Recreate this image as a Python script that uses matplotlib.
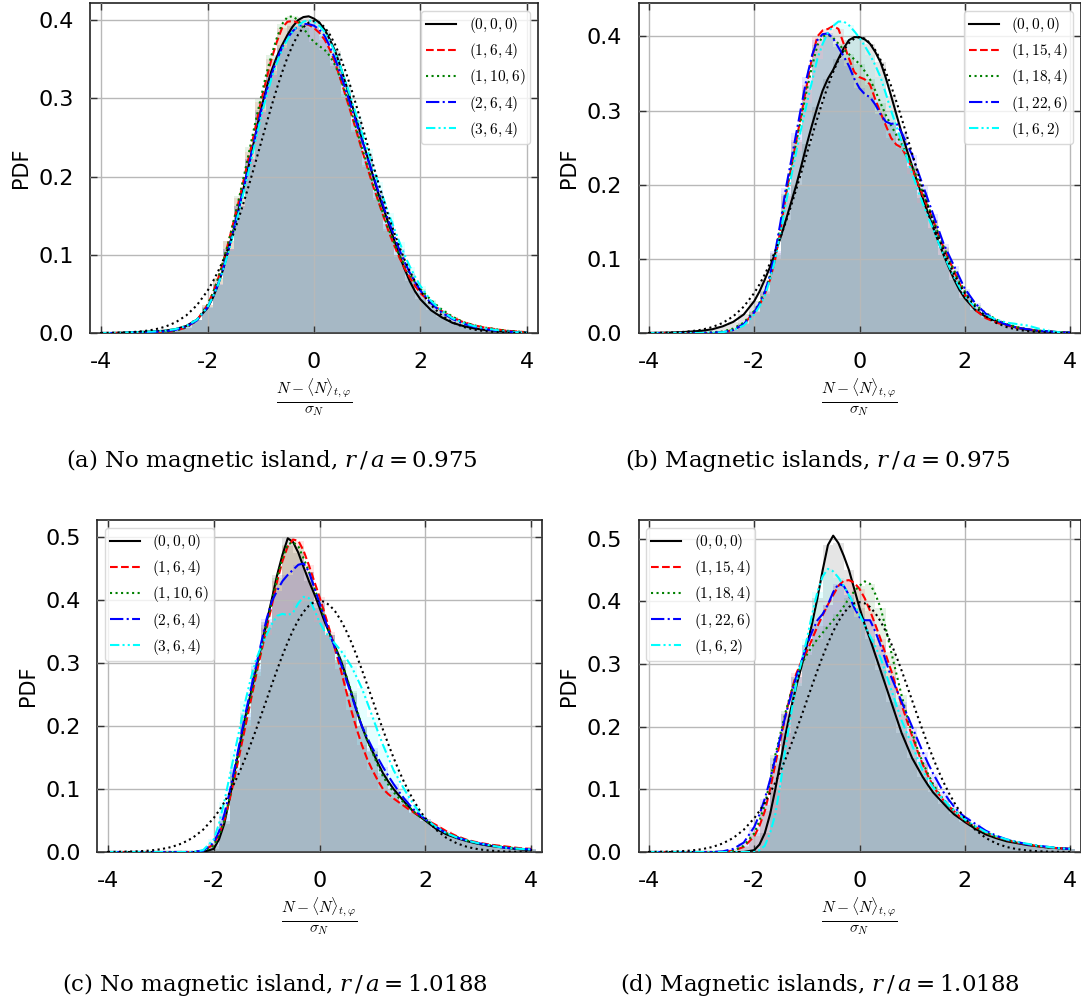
import numpy as np
import matplotlib
matplotlib.use('Agg')
import matplotlib.pyplot as plt
from matplotlib.ticker import MultipleLocator

plt.rcParams['mathtext.fontset'] = 'cm'
plt.rcParams['axes.unicode_minus'] = False
plt.rcParams['font.family'] = 'DejaVu Sans'

# x positions of the sampled curves (normalised fluctuation)
X = [-4.0, -3.8, -3.6, -3.4, -3.2, -3.0, -2.8, -2.6, -2.4, -2.2,
     -2.0, -1.9, -1.8, -1.7, -1.6, -1.5, -1.4, -1.3, -1.2, -1.1,
     -1.0, -0.9, -0.8, -0.7, -0.6, -0.5, -0.4, -0.3, -0.2, -0.1,
     0.0, 0.1, 0.2, 0.3, 0.4, 0.5, 0.6, 0.7, 0.8, 0.9,
     1.0, 1.1, 1.2, 1.3, 1.4, 1.5, 1.6, 1.7, 1.8, 1.9,
     2.0, 2.2, 2.4, 2.6, 2.8, 3.0, 3.2, 3.4, 3.6, 3.8,
     4.0]

# reference Gaussian (black dotted)
GAUSS = [0.0001, 0.0003, 0.0006, 0.0012, 0.0024, 0.0044, 0.0079, 0.0136, 0.0224, 0.0355,
         0.0540, 0.0656, 0.0790, 0.0940, 0.1109, 0.1295, 0.1497, 0.1714, 0.1942, 0.2179,
         0.2420, 0.2661, 0.2897, 0.3123, 0.3332, 0.3521, 0.3683, 0.3814, 0.3910, 0.3970,
         0.3989, 0.3970, 0.3910, 0.3814, 0.3683, 0.3521, 0.3332, 0.3123, 0.2897, 0.2661,
         0.2420, 0.2179, 0.1942, 0.1714, 0.1497, 0.1295, 0.1109, 0.0940, 0.0790, 0.0656,
         0.0540, 0.0355, 0.0224, 0.0136, 0.0079, 0.0044, 0.0024, 0.0012, 0.0006, 0.0003,
         0.0001]

# (a) no magnetic island, r/a = 0.975
A_000 = [0.0, 0.0, 0.0005, 0.001, 0.0015, 0.002, 0.003, 0.005, 0.009, 0.017,
         0.032, 0.045, 0.062, 0.083, 0.108, 0.135, 0.163, 0.192, 0.222, 0.254,
         0.285, 0.312, 0.335, 0.353, 0.368, 0.381, 0.392, 0.4, 0.404, 0.405,
         0.402, 0.397, 0.388, 0.375, 0.36, 0.34, 0.318, 0.295, 0.272, 0.249,
         0.226, 0.203, 0.18, 0.16, 0.14, 0.12, 0.1, 0.082, 0.066, 0.053,
         0.043, 0.029, 0.02, 0.013, 0.009, 0.006, 0.004, 0.003, 0.002, 0.001,
         0.0005]
A_164 = [0.0, 0.0, 0.0, 0.0, 0.0, 0.0005, 0.001, 0.003, 0.007, 0.016,
         0.036, 0.051, 0.07, 0.092, 0.118, 0.145, 0.172, 0.202, 0.232, 0.263,
         0.295, 0.323, 0.35, 0.372, 0.39, 0.398, 0.399, 0.397, 0.396, 0.394,
         0.39, 0.384, 0.375, 0.362, 0.345, 0.324, 0.302, 0.28, 0.257, 0.234,
         0.212, 0.19, 0.17, 0.15, 0.13, 0.113, 0.097, 0.083, 0.071, 0.06,
         0.051, 0.038, 0.028, 0.02, 0.014, 0.01, 0.007, 0.005, 0.003, 0.002,
         0.001]
A_1106 = [0.0, 0.0, 0.0, 0.0, 0.0, 0.0005, 0.001, 0.003, 0.007, 0.016,
          0.036, 0.051, 0.07, 0.093, 0.118, 0.146, 0.175, 0.206, 0.238, 0.27,
          0.3, 0.33, 0.355, 0.377, 0.395, 0.404, 0.405, 0.4, 0.39, 0.38,
          0.372, 0.367, 0.362, 0.354, 0.342, 0.325, 0.305, 0.283, 0.26, 0.237,
          0.215, 0.193, 0.172, 0.152, 0.133, 0.116, 0.1, 0.087, 0.075, 0.065,
          0.056, 0.042, 0.03, 0.021, 0.014, 0.01, 0.007, 0.005, 0.003, 0.002,
          0.001]
A_264 = [0.0, 0.0, 0.0, 0.0005, 0.001, 0.0015, 0.002, 0.004, 0.008, 0.016,
         0.033, 0.046, 0.063, 0.084, 0.108, 0.135, 0.163, 0.192, 0.222, 0.252,
         0.282, 0.308, 0.33, 0.349, 0.365, 0.377, 0.386, 0.392, 0.395, 0.395,
         0.393, 0.388, 0.38, 0.366, 0.35, 0.331, 0.31, 0.289, 0.268, 0.247,
         0.225, 0.204, 0.183, 0.163, 0.143, 0.125, 0.107, 0.091, 0.077, 0.065,
         0.054, 0.038, 0.026, 0.018, 0.012, 0.008, 0.005, 0.003, 0.002, 0.001,
         0.0005]
A_364 = [0.0, 0.0, 0.0005, 0.001, 0.0015, 0.002, 0.003, 0.005, 0.009, 0.017,
         0.033, 0.046, 0.062, 0.082, 0.105, 0.131, 0.158, 0.186, 0.215, 0.245,
         0.275, 0.301, 0.325, 0.345, 0.362, 0.375, 0.386, 0.393, 0.398, 0.4,
         0.398, 0.393, 0.385, 0.373, 0.358, 0.34, 0.32, 0.299, 0.278, 0.256,
         0.235, 0.214, 0.193, 0.173, 0.153, 0.135, 0.117, 0.1, 0.085, 0.072,
         0.06, 0.041, 0.028, 0.019, 0.013, 0.009, 0.006, 0.004, 0.002, 0.001,
         0.0005]

# (b) magnetic islands, r/a = 0.975
B_000 = [0.0, 0.0003, 0.0006, 0.001, 0.002, 0.003, 0.005, 0.009, 0.015, 0.025,
         0.043, 0.056, 0.072, 0.089, 0.108, 0.129, 0.152, 0.176, 0.2, 0.227,
         0.255, 0.281, 0.305, 0.327, 0.343, 0.355, 0.37, 0.384, 0.395, 0.399,
         0.399, 0.396, 0.39, 0.379, 0.365, 0.344, 0.32, 0.295, 0.27, 0.247,
         0.225, 0.203, 0.182, 0.162, 0.142, 0.123, 0.105, 0.088, 0.072, 0.058,
         0.047, 0.031, 0.022, 0.016, 0.011, 0.007, 0.004, 0.003, 0.002, 0.001,
         0.0005]
B_1154 = [0.0, 0.0, 0.0, 0.0, 0.0, 0.0, 0.0, 0.001, 0.004, 0.012,
          0.028, 0.038, 0.052, 0.072, 0.1, 0.14, 0.185, 0.222, 0.26, 0.297,
          0.335, 0.372, 0.4, 0.408, 0.41, 0.414, 0.41, 0.39, 0.37, 0.352,
          0.345, 0.342, 0.335, 0.315, 0.297, 0.28, 0.263, 0.254, 0.25, 0.237,
          0.222, 0.204, 0.186, 0.169, 0.152, 0.133, 0.115, 0.099, 0.083, 0.067,
          0.052, 0.031, 0.02, 0.014, 0.01, 0.007, 0.005, 0.003, 0.002, 0.001,
          0.0005]
B_1184 = [0.0, 0.0, 0.0, 0.0, 0.0, 0.0005, 0.001, 0.002, 0.006, 0.014,
          0.03, 0.041, 0.056, 0.077, 0.105, 0.145, 0.188, 0.223, 0.258, 0.293,
          0.328, 0.36, 0.388, 0.4, 0.402, 0.398, 0.39, 0.382, 0.376, 0.369,
          0.363, 0.353, 0.342, 0.327, 0.31, 0.294, 0.28, 0.267, 0.255, 0.24,
          0.225, 0.208, 0.19, 0.172, 0.153, 0.134, 0.116, 0.1, 0.084, 0.07,
          0.056, 0.038, 0.027, 0.018, 0.012, 0.008, 0.005, 0.003, 0.002, 0.001,
          0.0005]
B_1226 = [0.0, 0.0, 0.0, 0.0, 0.0, 0.0, 0.0005, 0.001, 0.004, 0.012,
          0.028, 0.04, 0.055, 0.078, 0.11, 0.15, 0.195, 0.232, 0.27, 0.308,
          0.345, 0.375, 0.395, 0.403, 0.404, 0.397, 0.385, 0.373, 0.36, 0.343,
          0.33, 0.322, 0.318, 0.308, 0.295, 0.285, 0.282, 0.283, 0.27, 0.255,
          0.24, 0.22, 0.2, 0.18, 0.16, 0.14, 0.12, 0.105, 0.09, 0.075,
          0.06, 0.04, 0.026, 0.017, 0.011, 0.007, 0.005, 0.003, 0.002, 0.001,
          0.0005]
B_162 = [0.0, 0.0, 0.0, 0.0, 0.0, 0.0, 0.0005, 0.001, 0.004, 0.01,
         0.025, 0.036, 0.05, 0.072, 0.1, 0.135, 0.175, 0.21, 0.245, 0.278,
         0.31, 0.34, 0.37, 0.39, 0.405, 0.414, 0.42, 0.42, 0.415, 0.407,
         0.398, 0.387, 0.375, 0.361, 0.345, 0.323, 0.3, 0.279, 0.258, 0.236,
         0.215, 0.195, 0.175, 0.157, 0.14, 0.122, 0.105, 0.09, 0.075, 0.062,
         0.05, 0.034, 0.024, 0.018, 0.014, 0.012, 0.01, 0.006, 0.003, 0.001,
         0.0]

# (c) no magnetic island, r/a = 1.0188
C_000 = [0.0, 0.0, 0.0, 0.0, 0.0, 0.0, 0.0, 0.0, 0.0, 0.0,
         0.005, 0.02, 0.045, 0.085, 0.13, 0.173, 0.215, 0.252, 0.29, 0.327,
         0.365, 0.402, 0.44, 0.472, 0.498, 0.492, 0.475, 0.452, 0.43, 0.41,
         0.388, 0.365, 0.345, 0.325, 0.305, 0.28, 0.253, 0.225, 0.2, 0.178,
         0.16, 0.142, 0.125, 0.112, 0.1, 0.09, 0.08, 0.071, 0.062, 0.056,
         0.05, 0.037, 0.028, 0.022, 0.017, 0.013, 0.01, 0.008, 0.006, 0.004,
         0.003]
C_164 = [0.0, 0.0, 0.0, 0.0, 0.0, 0.0, 0.0, 0.0, 0.0, 0.002,
         0.012, 0.028, 0.05, 0.083, 0.12, 0.16, 0.2, 0.24, 0.28, 0.318,
         0.355, 0.392, 0.43, 0.462, 0.485, 0.496, 0.494, 0.478, 0.455, 0.43,
         0.405, 0.378, 0.35, 0.32, 0.29, 0.257, 0.225, 0.196, 0.17, 0.148,
         0.13, 0.114, 0.1, 0.092, 0.085, 0.079, 0.073, 0.067, 0.062, 0.057,
         0.052, 0.043, 0.033, 0.025, 0.019, 0.015, 0.012, 0.01, 0.008, 0.006,
         0.005]
C_1106 = [0.0, 0.0, 0.0, 0.0, 0.0, 0.0, 0.0, 0.0, 0.0, 0.001,
          0.01, 0.026, 0.05, 0.086, 0.125, 0.168, 0.21, 0.247, 0.285, 0.322,
          0.36, 0.398, 0.435, 0.467, 0.488, 0.492, 0.485, 0.466, 0.445, 0.42,
          0.395, 0.37, 0.345, 0.325, 0.305, 0.281, 0.255, 0.228, 0.2, 0.178,
          0.158, 0.138, 0.12, 0.107, 0.095, 0.086, 0.078, 0.07, 0.063, 0.056,
          0.05, 0.04, 0.03, 0.024, 0.018, 0.014, 0.011, 0.009, 0.007, 0.005,
          0.004]
C_264 = [0.0, 0.0, 0.0, 0.0, 0.0, 0.0, 0.0, 0.0, 0.0, 0.002,
         0.015, 0.033, 0.06, 0.095, 0.135, 0.178, 0.22, 0.258, 0.295, 0.333,
         0.37, 0.398, 0.415, 0.43, 0.44, 0.448, 0.456, 0.458, 0.445, 0.42,
         0.395, 0.37, 0.345, 0.322, 0.3, 0.275, 0.25, 0.224, 0.2, 0.182,
         0.165, 0.15, 0.135, 0.121, 0.108, 0.096, 0.085, 0.075, 0.066, 0.059,
         0.052, 0.04, 0.03, 0.023, 0.018, 0.014, 0.011, 0.008, 0.006, 0.005,
         0.004]
C_364 = [0.0, 0.0, 0.0, 0.0, 0.0, 0.0, 0.0, 0.0, 0.0, 0.003,
         0.02, 0.045, 0.08, 0.12, 0.16, 0.2, 0.24, 0.275, 0.305, 0.327,
         0.345, 0.362, 0.375, 0.378, 0.376, 0.38, 0.395, 0.405, 0.403, 0.385,
         0.365, 0.35, 0.34, 0.33, 0.32, 0.308, 0.295, 0.278, 0.26, 0.238,
         0.215, 0.192, 0.17, 0.15, 0.13, 0.115, 0.1, 0.086, 0.073, 0.062,
         0.053, 0.04, 0.03, 0.023, 0.018, 0.014, 0.011, 0.008, 0.006, 0.005,
         0.004]

# (d) magnetic islands, r/a = 1.0188
D_000 = [0.0, 0.0, 0.0, 0.0, 0.0, 0.0, 0.0, 0.0, 0.0, 0.0,
         0.003, 0.012, 0.03, 0.06, 0.1, 0.145, 0.19, 0.23, 0.265, 0.297,
         0.33, 0.365, 0.405, 0.45, 0.49, 0.505, 0.493, 0.473, 0.45, 0.42,
         0.39, 0.363, 0.34, 0.315, 0.29, 0.265, 0.24, 0.215, 0.19, 0.17,
         0.15, 0.135, 0.12, 0.107, 0.095, 0.086, 0.077, 0.068, 0.06, 0.054,
         0.048, 0.037, 0.028, 0.022, 0.017, 0.014, 0.011, 0.009, 0.007, 0.006,
         0.005]
D_1154 = [0.0, 0.0, 0.0, 0.0, 0.0, 0.0, 0.0, 0.0, 0.002, 0.008,
          0.025, 0.042, 0.065, 0.1, 0.14, 0.18, 0.22, 0.255, 0.285, 0.305,
          0.32, 0.34, 0.36, 0.378, 0.395, 0.41, 0.425, 0.433, 0.434, 0.43,
          0.42, 0.405, 0.385, 0.363, 0.34, 0.315, 0.29, 0.262, 0.235, 0.21,
          0.185, 0.162, 0.14, 0.122, 0.105, 0.093, 0.082, 0.073, 0.065, 0.057,
          0.05, 0.04, 0.031, 0.024, 0.019, 0.015, 0.012, 0.009, 0.007, 0.006,
          0.005]
D_1184 = [0.0, 0.0, 0.0, 0.0, 0.0, 0.0, 0.0, 0.0, 0.002, 0.01,
          0.03, 0.05, 0.075, 0.113, 0.155, 0.19, 0.225, 0.255, 0.28, 0.3,
          0.315, 0.328, 0.34, 0.35, 0.36, 0.37, 0.38, 0.392, 0.405, 0.416,
          0.425, 0.432, 0.428, 0.412, 0.39, 0.357, 0.32, 0.285, 0.25, 0.218,
          0.19, 0.165, 0.143, 0.125, 0.108, 0.095, 0.083, 0.074, 0.066, 0.058,
          0.051, 0.04, 0.031, 0.024, 0.019, 0.015, 0.012, 0.009, 0.007, 0.006,
          0.005]
D_1226 = [0.0, 0.0, 0.0, 0.0, 0.0, 0.0, 0.0, 0.001, 0.005, 0.015,
          0.04, 0.06, 0.085, 0.115, 0.15, 0.185, 0.22, 0.25, 0.28, 0.305,
          0.33, 0.352, 0.37, 0.38, 0.395, 0.415, 0.428, 0.425, 0.41, 0.39,
          0.375, 0.37, 0.37, 0.352, 0.33, 0.305, 0.28, 0.26, 0.24, 0.22,
          0.2, 0.18, 0.16, 0.142, 0.125, 0.11, 0.095, 0.083, 0.072, 0.063,
          0.056, 0.045, 0.034, 0.026, 0.02, 0.016, 0.012, 0.01, 0.008, 0.006,
          0.005]
D_162 = [0.0, 0.0, 0.0, 0.0, 0.0, 0.0, 0.0, 0.0, 0.0, 0.0,
         0.0, 0.003, 0.01, 0.03, 0.06, 0.11, 0.17, 0.22, 0.27, 0.305,
         0.34, 0.38, 0.415, 0.44, 0.452, 0.448, 0.438, 0.425, 0.41, 0.395,
         0.38, 0.362, 0.345, 0.328, 0.31, 0.285, 0.26, 0.235, 0.21, 0.19,
         0.17, 0.15, 0.13, 0.116, 0.103, 0.093, 0.083, 0.074, 0.066, 0.059,
         0.052, 0.041, 0.032, 0.025, 0.02, 0.016, 0.013, 0.01, 0.008, 0.006,
         0.005]

LABELS_NO_ISLAND = [r'$(0,0,0)$', r'$(1,6,4)$', r'$(1,10,6)$', r'$(2,6,4)$', r'$(3,6,4)$']
LABELS_ISLANDS = [r'$(0,0,0)$', r'$(1,15,4)$', r'$(1,18,4)$', r'$(1,22,6)$', r'$(1,6,2)$']
CAPTIONS = [r'(a) No magnetic island, $r\,/\,a = 0.975$',
            r'(b) Magnetic islands, $r\,/\,a = 0.975$',
            r'(c) No magnetic island, $r\,/\,a = 1.0188$',
            r'(d) Magnetic islands, $r\,/\,a = 1.0188$']
XTICKS = [-4, -2, 0, 2, 4]

COLORS = ['black', 'red', 'green', 'blue', 'cyan']
STYLES = ['-', '--', ':', '-.', (0, (4.5, 1.5, 1, 1.5, 1, 1.5))]

W, H = 1081, 999
fig = plt.figure(figsize=(W / 100, H / 100), dpi=100)


def rect(l, r, t, b):
    return [l / W, 1 - b / H, (r - l) / W, (b - t) / H]


panels = [
    dict(series=[A_000, A_164, A_1106, A_264, A_364], labels=LABELS_NO_ISLAND,
         rect=rect(90.4, 537.6, 3, 333), ylim=0.422, loc='upper right',
         cap=(272, 460)),
    dict(series=[B_000, B_1154, B_1184, B_1226, B_162], labels=LABELS_ISLANDS,
         rect=rect(638.5, 1080.5, 3, 333), ylim=0.445, loc='upper right',
         cap=(818, 460)),
    dict(series=[C_000, C_164, C_1106, C_264, C_364], labels=LABELS_NO_ISLAND,
         rect=rect(97.4, 541.6, 520, 852), ylim=0.527, loc='upper left',
         cap=(275, 985)),
    dict(series=[D_000, D_1154, D_1184, D_1226, D_162], labels=LABELS_ISLANDS,
         rect=rect(638.5, 1080.5, 520, 852), ylim=0.530, loc='upper left',
         cap=(820, 985)),
]

xs = np.array(X)
# histogram bins: the samples on the 0.2 grid
hmask = np.isclose(np.round(xs * 5), xs * 5)
hx = xs[hmask]
hstep = 0.2
edges = np.append(hx - hstep / 2, hx[-1] + hstep / 2)

for p, cap in zip(panels, CAPTIONS):
    ax = fig.add_axes(p['rect'])
    for vals, col in zip(p['series'], COLORS):
        ax.stairs(np.array(vals)[hmask], edges, fill=True, color=col, alpha=0.1,
                  lw=0, zorder=1)
    for vals, col, ls, lab in zip(p['series'], COLORS, STYLES, p['labels']):
        ax.plot(xs, vals, color=col, ls=ls, lw=1.5, label=lab, zorder=3)
    ax.plot(xs, GAUSS, color='black', ls=':', lw=1.5, zorder=3)
    ax.set_xlim(-4.2, 4.2)
    ax.set_ylim(0, p['ylim'])
    ax.set_xticks(XTICKS)
    ax.yaxis.set_major_locator(MultipleLocator(0.1))
    ax.grid(True, color='#b8b8b8', lw=1.0, zorder=1.5)
    ax.set_axisbelow(False)
    ax.tick_params(direction='in', top=True, right=True, length=5, width=1,
                   color='#333333', labelsize=16)
    ax.tick_params(axis='x', pad=14)
    ax.tick_params(axis='y', pad=12)
    for s in ax.spines.values():
        s.set_color('#222222')
        s.set_linewidth(1.2)
    ax.set_ylabel('PDF', fontsize=15, labelpad=5)
    ax.set_xlabel(r'$\frac{N-\langle N\rangle_{t,\varphi}}{\sigma_N}$', fontsize=16, labelpad=3)
    ax.legend(loc=p['loc'], fontsize=11, framealpha=0.8, edgecolor='#d0d0d0',
              fancybox=True, handlelength=2.0, labelspacing=0.4, borderpad=0.3)
    fig.text(p['cap'][0] / W, 1 - p['cap'][1] / H, cap, ha='center', va='center',
             fontsize=16.5, family='DejaVu Serif', math_fontfamily='dejavuserif')

fig.savefig('out.png', dpi=100)
